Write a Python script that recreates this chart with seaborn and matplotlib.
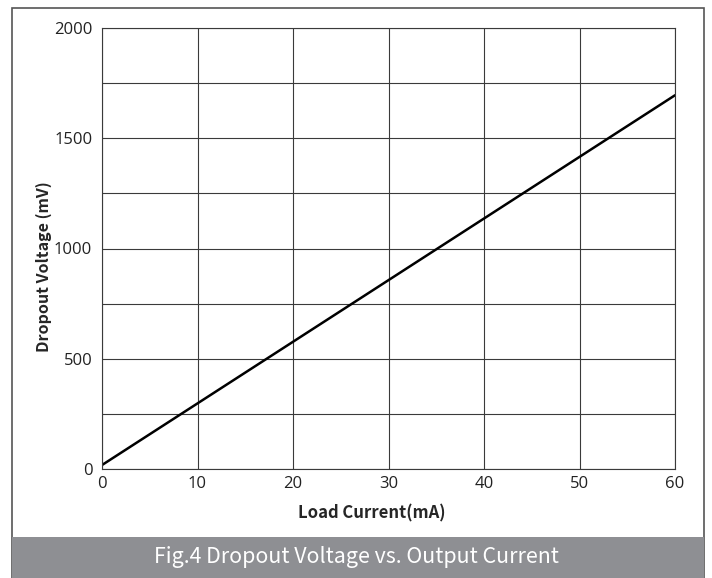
import numpy as np
import pandas as pd
import seaborn as sns
import matplotlib.pyplot as plt
from matplotlib.patches import Rectangle

# data
load_current = [0, 60]
dropout_voltage = [18, 1695]
x_ticks = [0, 10, 20, 30, 40, 50, 60]
y_ticks = [0, 500, 1000, 1500, 2000]
y_minor = [250, 750, 1250, 1750]

sns.set_style('white')
plt.rcParams['font.family'] = ['Noto Sans CJK SC', 'DejaVu Sans']

fig = plt.figure(figsize=(7.12, 5.78), dpi=100)
ax = fig.add_axes([102 / 712, 1 - 469 / 578, 573 / 712, 441 / 578])

df = pd.DataFrame({'current': load_current, 'voltage': dropout_voltage})
sns.lineplot(data=df, x='current', y='voltage', ax=ax, color='black', linewidth=1.8)

ax.set_xlim(0, 60)
ax.set_ylim(0, 2000)
ax.set_xticks(x_ticks)
ax.set_yticks(y_ticks)
ax.set_yticks(y_minor, minor=True)
ax.tick_params(which='both', length=0, colors='#222222',
               labelsize=12, labelfontfamily='Open Sans')
ax.tick_params(axis='x', pad=5)
ax.tick_params(axis='y', pad=7)
ax.grid(True, which='both', color='#3a3a3a', linewidth=0.8)
for s in ax.spines.values():
    s.set_color('#3a3a3a')
    s.set_linewidth(0.8)
ax.set_axisbelow(True)

ax.set_xlabel('Load Current(mA)', fontsize=12, fontweight='bold')
ax.set_ylabel('Dropout Voltage (mV)', fontsize=11.5, fontweight='bold')
ax.xaxis.set_label_coords((372 - 102) / 573, -(513 - 469) / 441)
ax.yaxis.set_label_coords(-(102 - 44) / 573, (469 - 267) / 441)
ax.xaxis.label.set_va('center')
ax.yaxis.label.set_va('center')

# outer frame and caption bar
fig.patches.append(Rectangle((12 / 712, 0), 692 / 712, 1 - 8 / 578,
                             transform=fig.transFigure, fill=False,
                             edgecolor='#555555', linewidth=1.2))
fig.patches.append(Rectangle((12 / 712, 0), 692 / 712, 41 / 578,
                             transform=fig.transFigure, facecolor='#8e8f93',
                             edgecolor='none'))
fig.text(356 / 712, 1 - 557 / 578, 'Fig.4 Dropout Voltage vs. Output Current',
         ha='center', va='center', color='white', fontsize=15.4)

fig.savefig('out.png', dpi=100)
plt.close(fig)
